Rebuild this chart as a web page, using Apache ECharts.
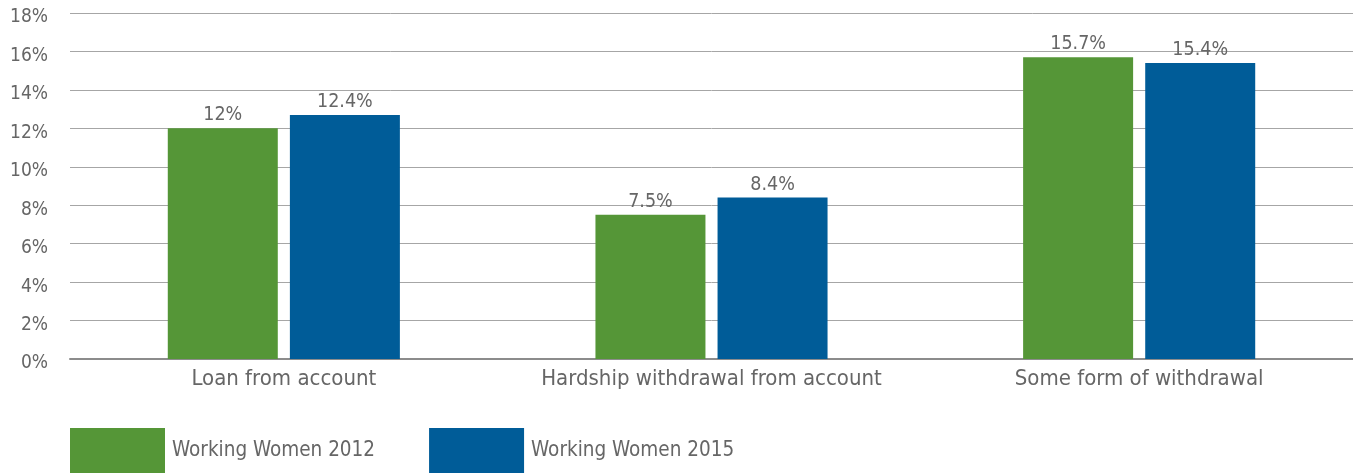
<!DOCTYPE html>
<html><head><meta charset="utf-8">
<script src="https://cdn.jsdelivr.net/npm/echarts@6/dist/echarts.min.js"></script>
<style>html,body{margin:0;padding:0;background:#fff}#c{width:1353px;height:473px}</style>
</head><body><div id="c"></div>
<script>
const categories = ["Loan from account", "Hardship withdrawal from account", "Some form of withdrawal"];
const seriesNames = ["Working Women 2012", "Working Women 2015"];
const values2012 = [12, 7.5, 15.7];
const values2015 = [12.7, 8.4, 15.4];
const labels2012 = ["12%", "7.5%", "15.7%"];
const labels2015 = ["12.4%", "8.4%", "15.4%"];
const yTicks = [0, 2, 4, 6, 8, 10, 12, 14, 16, 18];

const FONT = '"Liberation Sans Narrow", "DejaVu Sans Condensed", "Roboto Condensed", sans-serif';
const chart = echarts.init(document.getElementById('c'));
function mkSeries(name, vals, labs, color) {
  return {
    name, type: 'bar', data: vals, barWidth: 110, barGap: '11%',
    itemStyle: { color },
    label: { show: true, position: 'top', distance: 3, color: '#666', fontSize: 19.5, fontFamily: FONT,
      formatter: p => labs[p.dataIndex] }
  };
}
chart.setOption({
  animation: false,
  grid: { left: 70, right: 0, top: 13, bottom: 114, containLabel: false },
  legend: {
    left: 70, top: 428, padding: 0, itemWidth: 95, itemHeight: 46, itemGap: 54, icon: 'rect',
    textStyle: { color: '#666', fontSize: 20.5, fontFamily: FONT, padding: [0, 0, 0, 2] },
    data: seriesNames
  },
  xAxis: {
    type: 'category', data: categories,
    axisLine: { lineStyle: { color: '#8c8c8c', width: 2 } },
    axisTick: { show: false },
    axisLabel: { interval: 0, color: '#666', fontSize: 22, fontFamily: FONT, margin: 9 }
  },
  yAxis: {
    type: 'value', min: yTicks[0], max: yTicks[yTicks.length - 1], interval: 2,
    axisLine: { show: false }, axisTick: { show: false },
    splitLine: { lineStyle: { color: '#a6a6a6', width: 1 } },
    axisLabel: { color: '#666', fontSize: 19, fontFamily: FONT, margin: 22, verticalAlign: 'top', lineHeight: 9, formatter: v => v + '%' }
  },
  series: [
    mkSeries(seriesNames[0], values2012, labels2012, '#559637'),
    mkSeries(seriesNames[1], values2015, labels2015, '#005c98')
  ]
});
</script></body></html>
